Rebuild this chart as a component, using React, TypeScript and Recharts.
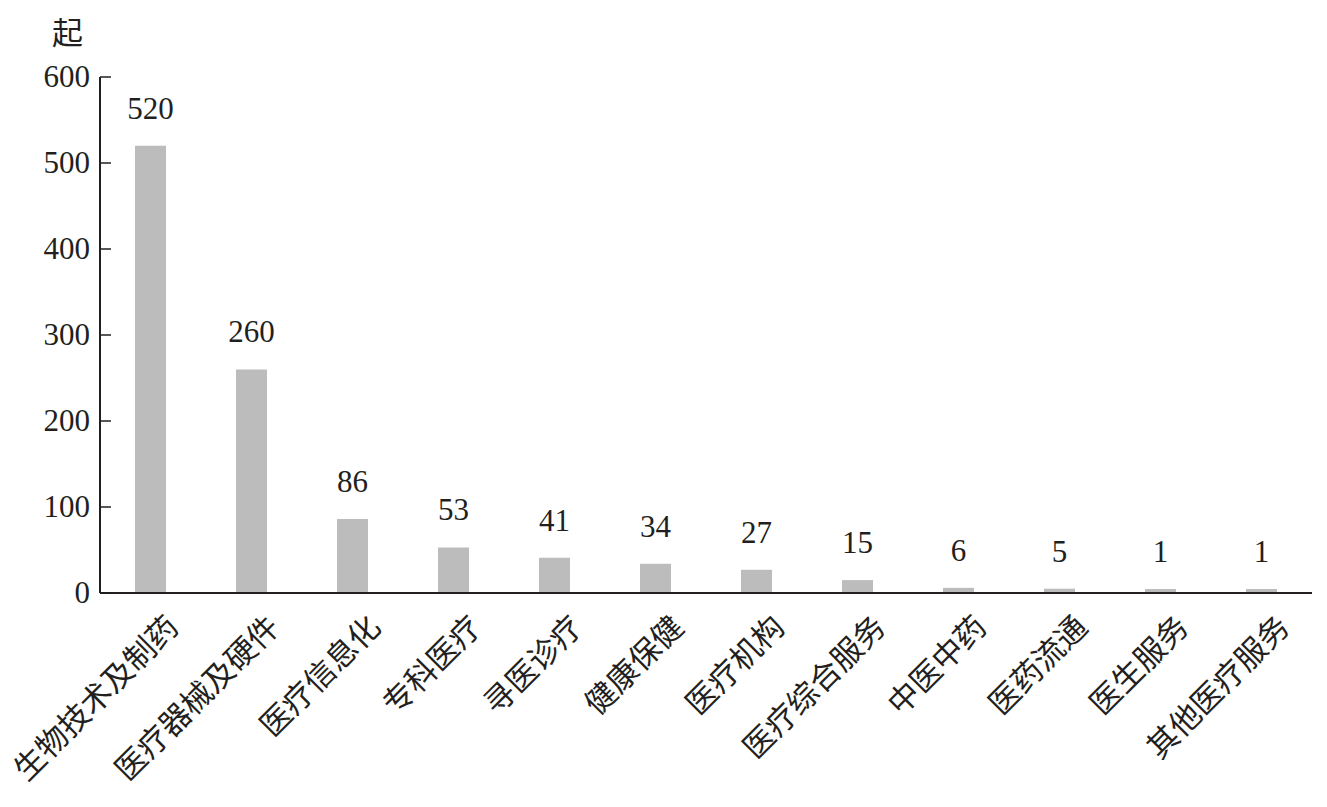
import { BarChart, Bar, XAxis, YAxis, LabelList } from 'recharts';

const categories = [
  '生物技术及制药', '医疗器械及硬件', '医疗信息化', '专科医疗', '寻医诊疗', '健康保健',
  '医疗机构', '医疗综合服务', '中医中药', '医药流通', '医生服务', '其他医疗服务',
];
const counts = [520, 260, 86, 53, 41, 34, 27, 15, 6, 5, 1, 1];
const yTicks = [0, 100, 200, 300, 400, 500, 600];

const data = categories.map((name, i) => ({ name, count: counts[i] }));

const FONT = '"Liberation Serif", "Noto Sans CJK SC", serif';

const YTick = ({ x, y, payload }: any) => (
  <g>
    <line x1={x + 10} x2={x + 21} y1={y} y2={y} stroke="#231f20" strokeWidth={1.5} />
    <text x={x} y={y} dy={10} textAnchor="end" fontSize={31} fontFamily={FONT} fill="#231f20">
      {payload.value}
    </text>
  </g>
);

const XTick = ({ x, y, payload }: any) => {
  const ax = x + 30;
  const ay = y + 28;
  return (
    <text
      x={ax}
      y={ay}
      textAnchor="end"
      fontSize={31}
      fontFamily={FONT}
      fill="#231f20"
      transform={`rotate(-45, ${ax}, ${ay})`}
    >
      {payload.value}
    </text>
  );
};

export default function App() {
  return (
    <div style={{ position: 'absolute', left: 0, top: 0, width: 1327, height: 807, background: '#fff' }}>
      <div
        style={{
          position: 'absolute', left: 52, top: 8, fontSize: 31,
          fontFamily: FONT, color: '#231f20',
        }}
      >
        起
      </div>
      <BarChart
        width={1327}
        height={807}
        data={data}
        margin={{ top: 77, right: 15, left: 0, bottom: 0 }}
      >
        <XAxis
          dataKey="name"
          interval={0}
          tickLine={false}
          height={214}
          axisLine={{ stroke: '#231f20', strokeWidth: 2 }}
          tick={<XTick />}
        />
        <YAxis
          domain={[0, 600]}
          ticks={yTicks}
          width={100}
          tickLine={false}
          tickSize={0}
          tickMargin={10}
          axisLine={{ stroke: '#231f20', strokeWidth: 2 }}
          tick={<YTick />}
        />
        <Bar dataKey="count" fill="#bdbcbd" barSize={31} minPointSize={4} isAnimationActive={false}>
          <LabelList
            dataKey="count"
            position="top"
            offset={27}
            fontSize={31}
            fontFamily={FONT}
            fill="#231f20"
          />
        </Bar>
      </BarChart>
    </div>
  );
}
